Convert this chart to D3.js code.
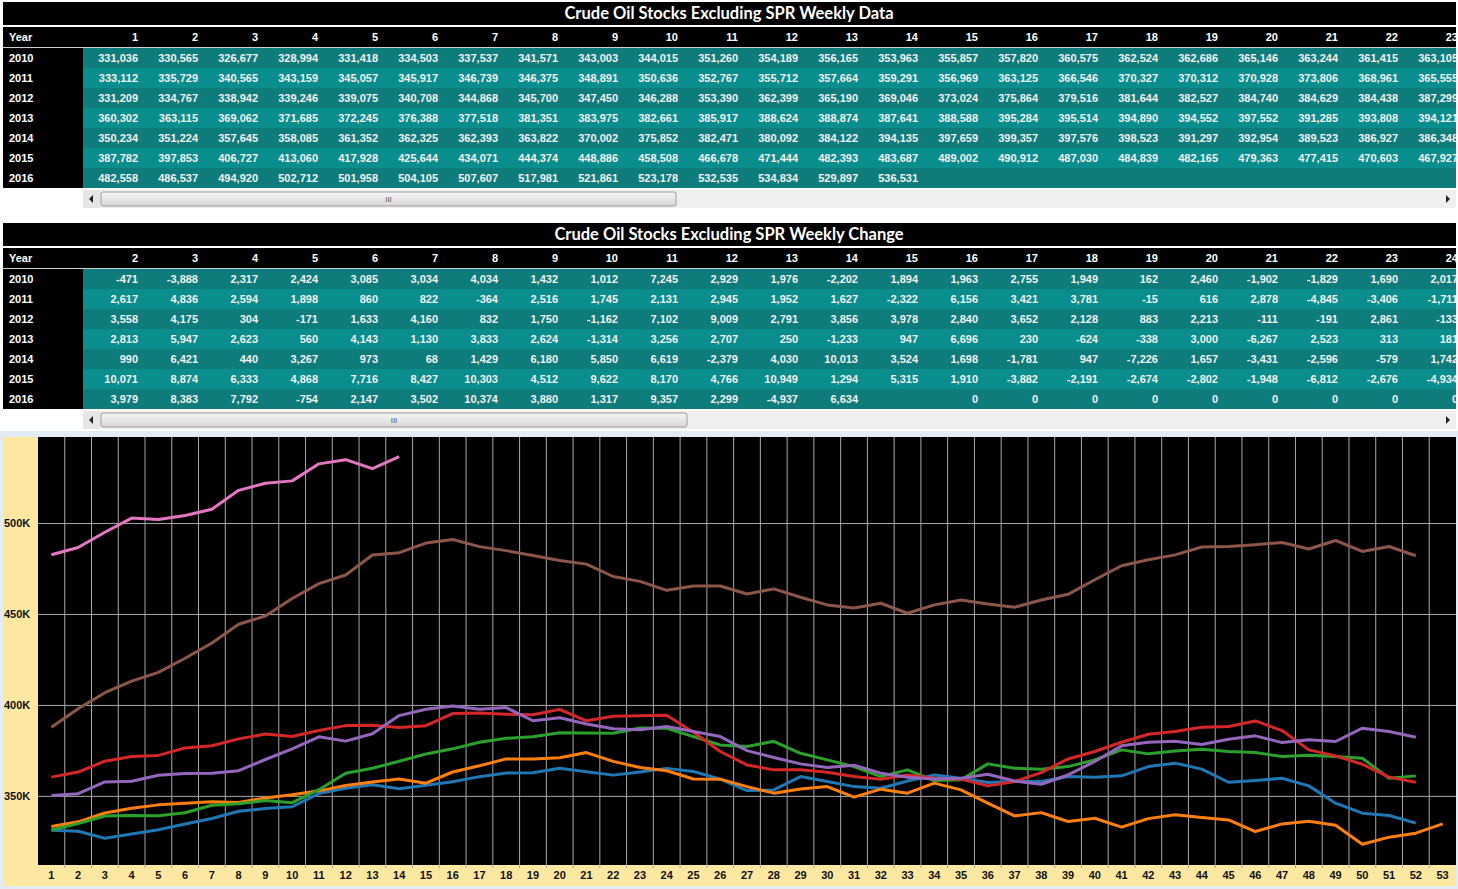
<!DOCTYPE html>
<html>
<head>
<meta charset="utf-8">
<script src="https://cdn.jsdelivr.net/npm/d3@7"></script>
<style>
body { margin: 0; background: #fff; }
text { font-family: "Liberation Sans", Arial, sans-serif; }
</style>
</head>
<body>
<div id="chart"></div>
<script>
// ---- data ----
var years = ["2010", "2011", "2012", "2013", "2014", "2015", "2016"];
var weeks = [1, 2, 3, 4, 5, 6, 7, 8, 9, 10, 11, 12, 13, 14, 15, 16, 17, 18, 19, 20, 21, 22, 23, 24, 25, 26,
    27, 28, 29, 30, 31, 32, 33, 34, 35, 36, 37, 38, 39, 40, 41, 42, 43, 44, 45, 46, 47, 48, 49, 50, 51, 52, 53];
var changeWeeks = [2, 3, 4, 5, 6, 7, 8, 9, 10, 11, 12, 13, 14, 15, 16, 17, 18, 19, 20, 21, 22, 23, 24];
var yTicks = [350000, 400000, 450000, 500000];

var stocks2010 = [331036, 330565, 326677, 328994, 331418, 334503, 337537, 341571, 343003, 344015, 351260, 354189, 356165,
    353963, 355857, 357820, 360575, 362524, 362686, 365146, 363244, 361415, 363105, 365122, 363400, 359200, 352900,
    353300, 360600, 357900, 355100, 354200, 358200, 361500, 359700, 357300, 357900, 357900, 360600, 360300, 361000,
    366100, 368000, 364700, 357500, 358400, 359700, 355500, 346000, 340500, 339200, 335000];
var stocks2011 = [333112, 335729, 340565, 343159, 345057, 345917, 346739, 346375, 348891, 350636, 352767, 355712, 357664,
    359291, 356969, 363125, 366546, 370327, 370312, 370928, 373806, 368961, 365555, 363844, 359300, 359200, 355100,
    351500, 353800, 355100, 349300, 353700, 351500, 357000, 353300, 346000, 339000, 340800, 335900, 337700, 332800,
    337500, 339600, 338100, 336800, 330400, 334600, 336100, 333900, 323400, 327300, 329500, 334600];
var stocks2012 = [331209, 334767, 338942, 339246, 339075, 340708, 344868, 345700, 347450, 346288, 353390, 362399, 365190,
    369046, 373024, 375864, 379516, 381644, 382527, 384740, 384629, 384438, 387299, 387166, 382600, 378000, 377100,
    380000, 373400, 369800, 366100, 360600, 364300, 358400, 358800, 367600, 365200, 364700, 366100, 369800, 375300,
    373100, 374700, 375600, 374400, 373800, 371600, 372400, 371600, 370700, 359700, 361000];
var stocks2013 = [360302, 363115, 369062, 371685, 372245, 376388, 377518, 381351, 383975, 382661, 385917, 388624, 388874,
    387641, 388588, 395284, 395514, 394890, 394552, 397552, 391285, 393808, 394121, 394302, 385000, 374400, 367000,
    364300, 364300, 363000, 360600, 359200, 361500, 359700, 359200, 355500, 357900, 362800, 370300, 374400, 379500,
    383900, 385400, 387700, 388100, 391200, 385900, 375300, 372000, 367400, 360300, 357500];
var stocks2014 = [350234, 351224, 357645, 358085, 361352, 362325, 362393, 363822, 370002, 375852, 382471, 380092, 384122,
    394135, 397659, 399357, 397576, 398523, 391297, 392954, 389523, 386927, 386348, 388090, 385400, 382600, 374900,
    371100, 367600, 365600, 366900, 362500, 360300, 359300, 359700, 361900, 358200, 356400, 361500, 368900, 377500,
    379500, 380000, 378200, 381100, 383000, 379300, 380800, 379900, 387200, 385400, 382200];
var stocks2015 = [387782, 397853, 406727, 413060, 417928, 425644, 434071, 444374, 448886, 458508, 466678, 471444, 482393,
    483687, 489002, 490912, 487030, 484839, 482165, 479363, 477415, 470603, 467927, 462993, 465400, 465400, 461000,
    463800, 459200, 455000, 453300, 455900, 450400, 455000, 457700, 455500, 453700, 457700, 460800, 468800, 476500,
    479800, 482500, 486800, 487100, 488100, 489300, 485700, 490400, 484400, 487100, 482000];
var stocks2016 = [482558, 486537, 494920, 502712, 501958, 504105, 507607, 517981, 521861, 523178, 532535, 534834, 529897,
    536531];

var change2010 = [-471, -3888, 2317, 2424, 3085, 3034, 4034, 1432, 1012, 7245, 2929, 1976, -2202, 1894, 1963, 2755, 1949,
    162, 2460, -1902, -1829, 1690, 2017];
var change2011 = [2617, 4836, 2594, 1898, 860, 822, -364, 2516, 1745, 2131, 2945, 1952, 1627, -2322, 6156, 3421, 3781,
    -15, 616, 2878, -4845, -3406, -1711];
var change2012 = [3558, 4175, 304, -171, 1633, 4160, 832, 1750, -1162, 7102, 9009, 2791, 3856, 3978, 2840, 3652, 2128,
    883, 2213, -111, -191, 2861, -133];
var change2013 = [2813, 5947, 2623, 560, 4143, 1130, 3833, 2624, -1314, 3256, 2707, 250, -1233, 947, 6696, 230, -624,
    -338, 3000, -6267, 2523, 313, 181];
var change2014 = [990, 6421, 440, 3267, 973, 68, 1429, 6180, 5850, 6619, -2379, 4030, 10013, 3524, 1698, -1781, 947,
    -7226, 1657, -3431, -2596, -579, 1742];
var change2015 = [10071, 8874, 6333, 4868, 7716, 8427, 10303, 4512, 9622, 8170, 4766, 10949, 1294, 5315, 1910, -3882,
    -2191, -2674, -2802, -1948, -6812, -2676, -4934];
var change2016 = [3979, 8383, 7792, -754, 2147, 3502, 10374, 3880, 1317, 9357, 2299, -4937, 6634, null, 0, 0, 0, 0, 0,
    0, 0, 0, 0];

var stocks = [stocks2010, stocks2011, stocks2012, stocks2013, stocks2014, stocks2015, stocks2016];
var changes = [change2010, change2011, change2012, change2013, change2014, change2015, change2016];

// ---- layout ----
var width = 1458, height = 889;
var colors = d3.schemeCategory10;
var fmt = d3.formatLocale({ decimal: ".", thousands: ",", grouping: [3], currency: ["$", ""], minus: "-" }).format(",");

var svg = d3.select("#chart").append("svg")
    .attr("width", width)
    .attr("height", height);

var defs = svg.append("defs");
defs.append("clipPath").attr("id", "tableClip")
    .append("rect").attr("x", 83).attr("y", 0).attr("width", 1373).attr("height", height);

var thumbGrad = defs.append("linearGradient").attr("id", "thumbGrad")
    .attr("x1", 0).attr("y1", 0).attr("x2", 0).attr("y2", 1);
thumbGrad.append("stop").attr("offset", "0%").attr("stop-color", "#f7f7f7");
thumbGrad.append("stop").attr("offset", "100%").attr("stop-color", "#d6d6d6");

function scrollbar(g, top, thumbEnd) {
    g.append("rect").attr("x", 83).attr("y", top).attr("width", 1373).attr("height", 18).attr("fill", "#efefef");
    g.append("rect").attr("x", 83).attr("y", top).attr("width", 17).attr("height", 18).attr("fill", "#e6e6e6");
    g.append("path").attr("d", "M89," + (top + 9) + "l4,-4v8z").attr("fill", "#222");
    g.append("path").attr("d", "M1450," + (top + 9) + "l-4,-4v8z").attr("fill", "#222");
    g.append("rect").attr("x", 101).attr("y", top + 2).attr("width", thumbEnd - 101).attr("height", 14)
        .attr("rx", 2).attr("fill", "url(#thumbGrad)").attr("stroke", "#9c9c9c");
    g.append("text").attr("x", (101 + thumbEnd) / 2).attr("y", top + 12)
        .attr("text-anchor", "middle").style("font-size", "8px").attr("fill", "#555").text("III");
}

function drawTable(top, title, cols, rows, thumbEnd) {
    var g = svg.append("g");
    g.append("rect").attr("x", 3).attr("y", top).attr("width", 1453).attr("height", 23).attr("fill", "#000");
    g.append("text").attr("x", 729).attr("y", top + 17)
        .attr("text-anchor", "middle").attr("fill", "#fff")
        .style("font-family", "Lato, 'Open Sans', sans-serif").style("font-weight", "bold").style("font-size", "16.5px")
        .text(title);

    g.append("rect").attr("x", 3).attr("y", top + 25).attr("width", 1453).attr("height", 20).attr("fill", "#000");
    g.append("rect").attr("x", 3).attr("y", top + 45).attr("width", 1453).attr("height", 1).attr("fill", "#cfcfcf");
    g.append("text").attr("x", 9).attr("y", top + 39).attr("fill", "#fff")
        .style("font-weight", "bold").style("font-size", "11px").text("Year");

    var clipped = g.append("g").attr("clip-path", "url(#tableClip)");
    clipped.selectAll(".colhead").data(cols).enter().append("text")
        .attr("x", function (d, i) { return 83 + 60 * (i + 1) - 5; })
        .attr("y", top + 39).attr("text-anchor", "end").attr("fill", "#fff")
        .style("font-weight", "bold").style("font-size", "11px")
        .text(function (d) { return d; });

    var row = g.selectAll(".row").data(rows).enter().append("g")
        .attr("transform", function (d, i) { return "translate(0," + (top + 46 + i * 20) + ")"; });
    row.append("rect").attr("x", 83).attr("y", 0).attr("width", 1373).attr("height", 20)
        .attr("fill", function (d, i) { return i % 2 ? "#0a8d8d" : "#0f7c7c"; });
    row.append("rect").attr("x", 3).attr("y", 0).attr("width", 80).attr("height", 20).attr("fill", "#000");
    row.append("text").attr("x", 9).attr("y", 14).attr("fill", "#fff")
        .style("font-weight", "bold").style("font-size", "11px")
        .text(function (d, i) { return years[i]; });

    var cells = row.append("g").attr("clip-path", "url(#tableClip)");
    cells.selectAll("text").data(function (d) { return d.slice(0, cols.length); }).enter().append("text")
        .attr("x", function (d, i) { return 83 + 60 * (i + 1) - 5; })
        .attr("y", 14).attr("text-anchor", "end").attr("fill", "#f2f2f2")
        .style("font-weight", "bold").style("font-size", "11px")
        .text(function (d) { return d == null ? "" : fmt(d); });

    scrollbar(g, top + 188, thumbEnd);
}

drawTable(2, "Crude Oil Stocks Excluding SPR Weekly Data", weeks.slice(0, 24), stocks, 676);
drawTable(223, "Crude Oil Stocks Excluding SPR Weekly Change", changeWeeks, changes, 687);

// ---- line chart ----
svg.append("rect").attr("x", 0).attr("y", 431).attr("width", width).attr("height", 458).attr("fill", "#e3ecf6");
svg.append("rect").attr("x", 3).attr("y", 437).attr("width", 1453).attr("height", 449).attr("fill", "#fde8a2");

var plot = { left: 38, right: 1456, top: 437, bottom: 865 };
svg.append("rect").attr("x", plot.left).attr("y", plot.top)
    .attr("width", plot.right - plot.left).attr("height", plot.bottom - plot.top).attr("fill", "#000");

var x = d3.scaleBand().domain(weeks).range([plot.left, plot.right]);
var y = d3.scaleLinear().domain([312000, 547300]).range([plot.bottom, plot.top]);

// vertical grid at band edges
svg.append("g").selectAll("line").data(weeks.slice(1)).enter().append("line")
    .attr("x1", function (d) { return x(d); }).attr("x2", function (d) { return x(d); })
    .attr("y1", plot.top).attr("y2", plot.bottom + 3)
    .attr("stroke", "#a8a8a8").attr("stroke-width", 1);

// horizontal grid + y labels
var yAxis = svg.append("g")
    .attr("transform", "translate(" + plot.left + ",0)")
    .call(d3.axisLeft(y).tickValues(yTicks).tickSize(-(plot.right - plot.left))
        .tickFormat(function (d) { return d / 1000 + "K"; }));
yAxis.select(".domain").remove();
yAxis.selectAll(".tick line").attr("stroke", "#a8a8a8");
yAxis.selectAll(".tick text")
    .attr("x", -34).attr("text-anchor", "start").attr("fill", "#111")
    .style("font-weight", "bold").style("font-size", "11px")
    .style("font-family", "'Liberation Sans Narrow', 'Liberation Sans', Arial, sans-serif");

// x labels
var xAxis = svg.append("g")
    .attr("transform", "translate(0," + plot.bottom + ")")
    .call(d3.axisBottom(x).tickSize(0).tickPadding(6));
xAxis.select(".domain").remove();
xAxis.selectAll(".tick text").attr("fill", "#111")
    .style("font-weight", "bold").style("font-size", "11px");

// lines
var line = d3.line()
    .x(function (d, i) { return x(weeks[i]) + x.bandwidth() / 2; })
    .y(function (d) { return y(d); });

svg.append("g").selectAll("path").data(stocks).enter().append("path")
    .attr("d", line)
    .attr("fill", "none")
    .attr("stroke", function (d, i) { return colors[i]; })
    .attr("stroke-width", 3)
    .attr("stroke-linejoin", "round");
</script>
</body>
</html>
